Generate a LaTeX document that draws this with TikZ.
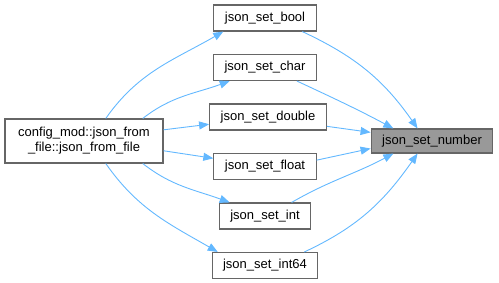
\documentclass[tikz,border=0pt]{standalone}
\usepackage{fontspec}
\setmainfont{Liberation Sans}
\usetikzlibrary{arrows.meta,positioning}
\definecolor{edgeblue}{HTML}{63B8FF}
\definecolor{boxgray}{HTML}{666666}
\definecolor{rootfill}{HTML}{999999}
\tikzset{
  >={Triangle[length=10pt,width=8pt]},
  every node/.append style={font=\fontsize{13}{15}\selectfont},
}
\tikzset{
  fn/.style={draw=boxgray, fill=white, line width=1.1pt, inner xsep=11pt, minimum height=26pt, align=center},
  call/.style={->, color=edgeblue, line width=0.9pt}
}

\begin{document}
\begin{tikzpicture}[x=1pt, y=1pt, node distance=22.4pt]
\useasboundingbox (0,0) rectangle (499,-283);

% caller on the left, callee on the right
\node[fn, minimum width=158pt, minimum height=44pt] (from_file) at (84,-141) {config\_mod::json\_from\\\_file::json\_from\_file};
\node[fn, fill=rootfill, minimum height=24pt] (set_number) at (432,-141) {json\_set\_number};

% the setters in between, top to bottom
\node[fn] (set_bool) at (265,-18) {json\_set\_bool};
\node[fn, below=of set_bool] (set_char) {json\_set\_char};
\node[fn, below=of set_char, xshift=3pt] (set_double) {json\_set\_double};
\node[fn, below=of set_double, xshift=-3pt] (set_float) {json\_set\_float};
\node[fn, below=of set_float] (set_int) {json\_set\_int};
\node[fn, below=of set_int] (set_int64) {json\_set\_int64};

% caller -> setters
\draw[call] (from_file.46) to[out=55, in=210] (set_bool.198);
\draw[call] (from_file.21) to[out=38, in=200] (set_char.201);
\draw[call] (from_file.8) -- (set_double.187);
\draw[call] (from_file.353) -- (set_float.171);
\draw[call] (from_file.339) to[out=322, in=160] (set_int.159);
\draw[call] (from_file.314) to[out=305, in=150] (set_int64.164);

% setters -> json_set_number
\draw[call] (set_bool.340) to[out=335, in=125] (set_number.139);
\draw[call] (set_char.337) to[out=335, in=152] (set_number.162);
\draw[call] (set_double.351) -- (set_number.172);
\draw[call] (set_float.7) -- (set_number.187);
\draw[call] (set_int.27) to[out=30, in=208] (set_number.198);
\draw[call] (set_int64.19) to[out=25, in=235] (set_number.221);

\end{tikzpicture}
\end{document}
